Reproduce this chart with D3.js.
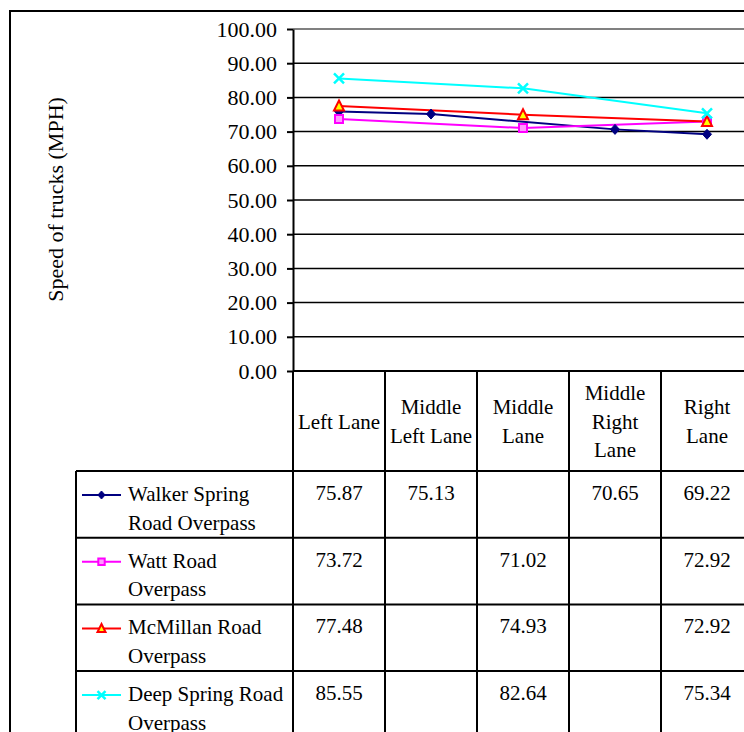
<!DOCTYPE html>
<html>
<head>
<meta charset="utf-8">
<script src="https://cdn.jsdelivr.net/npm/d3@7"></script>
<style>
  body { margin: 0; background: #fff; }
  svg { display: block; }
  text { font-family: "Liberation Serif", "Times New Roman", serif; fill: #000; }
</style>
</head>
<body>
<svg id="chart" width="744" height="732"></svg>
<script>
// Lanes (x categories) and how their header cells wrap
const lanes = ["Left Lane", "Middle Left Lane", "Middle Lane", "Middle Right Lane", "Right Lane"];
const laneLabelLines = [["Left Lane"], ["Middle", "Left Lane"], ["Middle", "Lane"], ["Middle", "Right", "Lane"], ["Right", "Lane"]];

// Measurement sites (series) and their wrapped legend labels
const sites = ["Walker Spring Road Overpass", "Watt Road Overpass", "McMillan Road Overpass", "Deep Spring Road Overpass"];
const siteLabelLines = [["Walker Spring", "Road Overpass"], ["Watt Road", "Overpass"], ["McMillan Road", "Overpass"], ["Deep Spring Road", "Overpass"]];

// Truck speeds (MPH) per lane; null = lane not measured at that site
const walkerSpring = [75.87, 75.13, null, 70.65, 69.22];
const wattRoad     = [73.72, null, 71.02, null, 72.92];
const mcMillan     = [77.48, null, 74.93, null, 72.92];
const deepSpring   = [85.55, null, 82.64, null, 75.34];

const yTicks = [0, 10, 20, 30, 40, 50, 60, 70, 80, 90, 100];
const siteColors = ["#000080", "#FF00FF", "#FF0000", "#00FFFF"];
const markerKinds = ["diamond", "square", "triangle", "cross"];

const seriesValues = [walkerSpring, wattRoad, mcMillan, deepSpring];

const svg = d3.select("#chart");

// Plot geometry
const plotLeft = 293, plotRight = 753, plotTop = 29, plotBottom = 371;
const headerBottom = 471, rowHeight = 66.7, legendLeft = 76;
const tableFont = 21;

const x = d3.scaleBand().domain(lanes).range([plotLeft, plotRight]);
const y = d3.scaleLinear().domain([0, 100]).range([plotBottom, plotTop]);

// Outer chart frame (right and bottom edges fall outside the page)
svg.append("line").attr("x1", 9).attr("x2", 744).attr("y1", 11).attr("y2", 11)
  .attr("stroke", "#000").attr("stroke-width", 2);
svg.append("line").attr("x1", 10).attr("x2", 10).attr("y1", 10).attr("y2", 732)
  .attr("stroke", "#000").attr("stroke-width", 2);

// Horizontal gridlines
svg.append("g").selectAll("line")
  .data(yTicks.filter(t => t > 0 && t < 100))
  .join("line")
  .attr("x1", plotLeft).attr("x2", plotRight)
  .attr("y1", d => y(d)).attr("y2", d => y(d))
  .attr("stroke", "#000").attr("stroke-width", 1.5);

// Plot-area top border
svg.append("line").attr("x1", plotLeft).attr("x2", plotRight)
  .attr("y1", y(100)).attr("y2", y(100))
  .attr("stroke", "#808080").attr("stroke-width", 2);

// Y axis
const yAxis = svg.append("g")
  .attr("transform", `translate(${plotLeft},0)`)
  .call(d3.axisLeft(y).tickValues(yTicks).tickFormat(d3.format(".2f")).tickSize(6).tickPadding(10).tickSizeOuter(0));
yAxis.select(".domain").attr("stroke", "#000").attr("stroke-width", 2);
yAxis.selectAll(".tick line").attr("stroke", "#000").attr("stroke-width", 2);
yAxis.selectAll(".tick text")
  .style("font-size", "22px").attr("fill", "#000");

// Axis title
svg.append("text")
  .attr("transform", "translate(63,199.5) rotate(-90)")
  .attr("text-anchor", "middle")
  .style("font-size", "22px")
  .text("Speed of trucks (MPH)");

// Marker shapes
function markerPath(kind, s) {
  switch (kind) {
    case "diamond": return `M0,${-5*s}L${4.5*s},0L0,${5*s}L${-4.5*s},0Z`;
    case "square": return `M${-4*s},${-4*s}H${4*s}V${4*s}H${-4*s}Z`;
    case "triangle": return `M0,${-5.5*s}L${5*s},${4.5*s}H${-5*s}Z`;
    case "cross": return `M${-5*s},${-5*s}L${5*s},${5*s}M${5*s},${-5*s}L${-5*s},${5*s}`;
  }
}
function drawMarker(g, kind, color, s) {
  const p = g.append("path").attr("d", markerPath(kind, s));
  if (kind === "diamond") p.attr("fill", color).attr("stroke", color).attr("stroke-width", 1);
  else if (kind === "square") p.attr("fill", "#FF99FF").attr("stroke", color).attr("stroke-width", 2);
  else if (kind === "triangle") p.attr("fill", "#FFFF00").attr("stroke", color).attr("stroke-width", 2).attr("stroke-linejoin", "miter");
  else p.attr("fill", "none").attr("stroke", color).attr("stroke-width", 2.5);
}

// Series lines (connected across unmeasured lanes) and markers
const line = d3.line().x(d => x(d.lane) + x.bandwidth() / 2).y(d => y(d.v));
seriesValues.forEach((vals, i) => {
  const pts = vals.map((v, j) => ({ lane: lanes[j], v })).filter(d => d.v !== null);
  svg.append("path").datum(pts).attr("d", line)
    .attr("fill", "none").attr("stroke", siteColors[i]).attr("stroke-width", 2);
});
seriesValues.forEach((vals, i) => {
  vals.forEach((v, j) => {
    if (v === null) return;
    const g = svg.append("g").attr("transform", `translate(${x(lanes[j]) + x.bandwidth() / 2},${y(v)})`);
    drawMarker(g, markerKinds[i], siteColors[i], 1);
  });
});

// Data table: header cells with lane names
const table = svg.append("g");
lanes.forEach((lane, j) => {
  const cx = x(lane) + x.bandwidth() / 2;
  const lines = laneLabelLines[j];
  const n = lines.length;
  const t = table.append("text").attr("text-anchor", "middle").style("font-size", tableFont + "px");
  lines.forEach((ln, k) => {
    t.append("tspan").attr("x", cx).attr("y", 428.5 + (k - (n - 1) / 2) * 28.5).text(ln);
  });
});

// Data table: legend + values per site
sites.forEach((site, i) => {
  const top = headerBottom + i * rowHeight;
  const lg = table.append("g");
  lg.append("line").attr("x1", 82).attr("x2", 121).attr("y1", top + 24).attr("y2", top + 24)
    .attr("stroke", siteColors[i]).attr("stroke-width", 2);
  drawMarker(lg.append("g").attr("transform", `translate(101.5,${top + 24})`), markerKinds[i], siteColors[i], 0.8);
  const t = lg.append("text").style("font-size", tableFont + "px");
  siteLabelLines[i].forEach((ln, k) => {
    t.append("tspan").attr("x", 128).attr("y", top + 30 + k * 28.5).text(ln);
  });
  seriesValues[i].forEach((v, j) => {
    if (v === null) return;
    table.append("text")
      .attr("x", x(lanes[j]) + x.bandwidth() / 2)
      .attr("y", top + 29)
      .attr("text-anchor", "middle").style("font-size", tableFont + "px")
      .text(d3.format(".2f")(v));
  });
});

// Table grid lines
function tline(x1, y1, x2, y2) {
  table.append("line").attr("x1", x1).attr("y1", y1).attr("x2", x2).attr("y2", y2)
    .attr("stroke", "#000").attr("stroke-width", 2);
}
// top of the table (category axis line)
tline(plotLeft, plotBottom, plotRight, plotBottom);
// column separators through header and body
lanes.forEach((lane, j) => {
  if (j === 0) return;
  tline(x(lane), plotBottom, x(lane), 732);
});
tline(plotLeft, plotBottom, plotLeft, 732);
tline(plotRight, plotBottom, plotRight, 732);
tline(legendLeft, headerBottom, legendLeft, 732);
// row separators
for (let i = 0; i <= sites.length; i++) {
  const yy = headerBottom + i * rowHeight;
  tline(legendLeft, yy, plotRight, yy);
}
</script>
</body>
</html>
